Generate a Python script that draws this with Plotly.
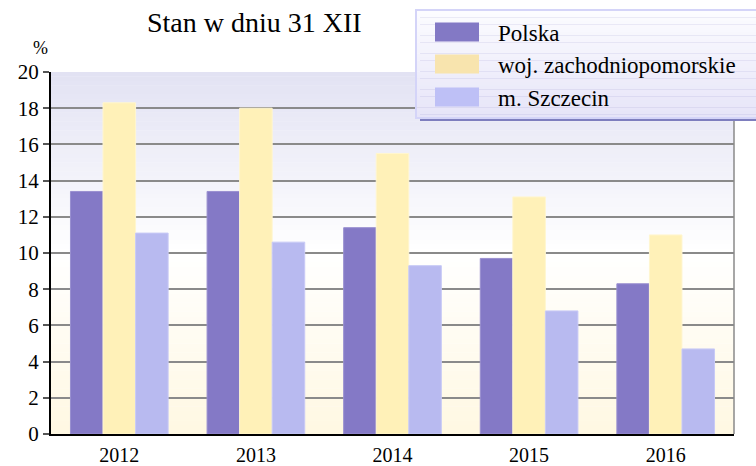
import plotly.graph_objects as go

years = ["2012", "2013", "2014", "2015", "2016"]
polska = [13.4, 13.4, 11.4, 9.7, 8.3]
zachodniopomorskie = [18.3, 18.0, 15.5, 13.1, 11.0]
szczecin = [11.1, 10.6, 9.3, 6.8, 4.7]

series_names = ["Polska", "woj. zachodniopomorskie", "m. Szczecin"]
series_values = [polska, zachodniopomorskie, szczecin]
series_colors = ["#8479c6", "#fff1b8", "#b8baf0"]
series_lines = ["#9a90d0", "#fff6d0", "#c8caf6"]
legend_colors = ["#8379c5", "#f8e4ae", "#bec0f6"]

y_ticks = [0, 2, 4, 6, 8, 10, 12, 14, 16, 18, 20]

FONT = "Liberation Serif"

# plot-area pixel geometry (figure 756x466)
L, R, T, B = 51, 734, 72, 434
W, H = R - L, B - T


def px(x):
    return (x - L) / W


def py(y):
    return (B - y) / H


fig = go.Figure()
for name, vals, col, lc in zip(series_names, series_values, series_colors, series_lines):
    fig.add_trace(go.Bar(x=years, y=vals, name=name, marker=dict(color=col, line=dict(color=lc, width=1)),
                         hoverinfo="skip", showlegend=False))


def lerp(c1, c2, t):
    return tuple(int(round(a + (b - a) * t)) for a, b in zip(c1, c2))


shapes = []
# vertical gradient background of plot area (styling)
top = (226, 226, 243)
mid = (255, 255, 255)
bot = (255, 248, 226)
n = 80
for i in range(n):
    y0 = 20 * i / n
    y1 = 20 * (i + 1) / n
    yc = (y0 + y1) / 2
    if yc >= 10:
        c = lerp(mid, top, (yc - 10) / 10)
    else:
        c = lerp(mid, bot, (10 - yc) / 10)
    shapes.append(dict(type="rect", xref="x domain", yref="y", x0=0, x1=1, y0=y0, y1=y1 + 0.02,
                       fillcolor="rgb(%d,%d,%d)" % c, line=dict(width=0), layer="below"))
# right border of plot area
shapes.append(dict(type="line", xref="x domain", yref="y domain", x0=1, x1=1, y0=0, y1=1,
                   line=dict(color="#8a8a8a", width=1.5), layer="above"))

# custom legend box with shadow and gradient
lx0, lx1, ly0, ly1 = 416, 770, 10, 118
shapes.append(dict(type="rect", xref="paper", yref="paper", x0=px(lx0 + 4), x1=px(lx1 + 4),
                   y0=py(ly1 + 3), y1=py(ly0 + 4), fillcolor="#7e7ebe", line=dict(width=0), layer="above"))
ln = 30
ltop = (252, 252, 255)
lbot = (230, 228, 248)
for i in range(ln):
    a = ly0 + (ly1 - ly0) * i / ln
    b = ly0 + (ly1 - ly0) * (i + 1) / ln
    c = lerp(ltop, lbot, (i + 0.5) / ln)
    shapes.append(dict(type="rect", xref="paper", yref="paper", x0=px(lx0), x1=px(lx1),
                       y0=py(b + 0.3), y1=py(a), fillcolor="rgb(%d,%d,%d)" % c,
                       line=dict(width=0), layer="above"))
shapes.append(dict(type="rect", xref="paper", yref="paper", x0=px(lx0), x1=px(lx1),
                   y0=py(ly1), y1=py(ly0), fillcolor="rgba(0,0,0,0)",
                   line=dict(color="#d4d4f8", width=2), layer="above"))

annotations = [
    dict(text="Stan w dniu 31 XII", xref="paper", yref="paper", x=px(254), y=py(23),
         xanchor="center", yanchor="middle", showarrow=False,
         font=dict(family=FONT, size=28, color="black")),
    dict(text="%", xref="paper", yref="paper", x=px(40), y=py(48),
         xanchor="center", yanchor="middle", showarrow=False,
         font=dict(family=FONT, size=18, color="black")),
]

row_centers = [32, 64, 97]
for name, col, yc in zip(series_names, legend_colors, row_centers):
    shapes.append(dict(type="rect", xref="paper", yref="paper", x0=px(435), x1=px(479),
                       y0=py(yc + 9.5), y1=py(yc - 9.5), fillcolor=col, line=dict(width=0), layer="above"))
    annotations.append(dict(text=name, xref="paper", yref="paper", x=px(496), y=py(yc + 1),
                            xanchor="left", yanchor="middle", showarrow=False,
                            font=dict(family=FONT, size=23, color="black")))

fig.update_layout(
    width=756, height=466,
    margin=dict(l=L, r=756 - R, t=T, b=466 - B, autoexpand=False),
    paper_bgcolor="white",
    plot_bgcolor="white",
    barmode="group",
    bargap=0.285,
    bargroupgap=0,
    font=dict(family=FONT, color="black", size=20),
    shapes=shapes,
    annotations=annotations,
    showlegend=False,
    xaxis=dict(showgrid=False, showline=True, linecolor="black", linewidth=2,
               ticks="", tickfont=dict(family=FONT, size=20), ticklabelstandoff=2),
    yaxis=dict(range=[0, 20], tickvals=y_ticks, showgrid=True, gridcolor="#8a8a8a", gridwidth=1.5,
               showline=True, linecolor="black", linewidth=2, ticks="outside", ticklen=6,
               tickcolor="#555555", tickwidth=1.5, zeroline=False, tickfont=dict(family=FONT, size=21)),
)

fig.write_html(
    "out.html",
    config={"displayModeBar": False},
    post_script="document.body.style.margin='0';document.body.style.padding='0';document.body.style.overflow='hidden';",
)
